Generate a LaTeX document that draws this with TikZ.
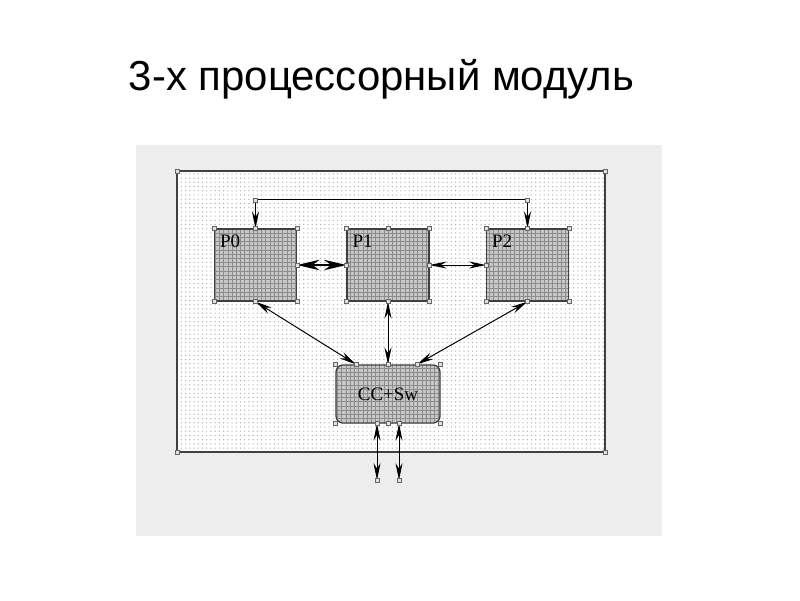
\documentclass[tikz,border=0pt]{standalone}
\usepackage{fontspec}
\setmainfont{Liberation Serif}
\newfontfamily\titlefont{Liberation Sans}
\usepackage{xcolor}
\usetikzlibrary{arrows.meta,patterns}

\tikzset{
  cpu/.style={draw=black!75,line width=0.9pt,preaction={fill=black!22},pattern=grid,pattern color=black!45,minimum width=2.05cm,minimum height=1.8cm,inner sep=0pt},
  tag/.style={anchor=north west,inner sep=0pt,font=\fontsize{13.5}{16}\selectfont},
  link/.style={line width=0.7pt,{Stealth[length=12pt,width=5pt]}-{Stealth[length=12pt,width=5pt]}},
  fatlink/.style={line width=1pt,{Stealth[length=16pt,width=7.5pt]}-{Stealth[length=16pt,width=7.5pt]}},
  grip/.style={draw=black!60,fill=black!12,line width=0.4pt}
}

\begin{document}
\begin{tikzpicture}[x=0.025cm,y=-0.025cm]
\useasboundingbox[fill=white](0,0)rectangle(800,600);
\node[font=\titlefont\fontsize{29.8}{35}\selectfont,anchor=base](title)at(381.5,90){3-х процессорный модуль};
\fill[black!7](136,145)rectangle(662,536);
\draw[draw=black!75,line width=1pt,preaction={fill=white},pattern=dots,pattern color=black!30](177,171)rectangle(605,452);

\node[cpu](p0)at(255.5,265){};
\node[cpu](p1)at(388,265){};
\node[cpu](p2)at(527.5,265){};
\node[cpu,rounded corners=5pt,minimum width=2.6cm,minimum height=1.45cm,font=\fontsize{13.5}{16}\selectfont](ccsw)at(388,394){CC+Sw};
\node[tag](p0lbl)at([shift={(6,6)}]p0.north west){P0};
\node[tag](p1lbl)at([shift={(6,6)}]p1.north west){P1};
\node[tag](p2lbl)at([shift={(6,6)}]p2.north west){P2};

\coordinate(in0)at([shift={(-32,0)}]ccsw.north);
\coordinate(in2)at([shift={(29,0)}]ccsw.north);
\coordinate(port1)at([shift={(-11,0)}]ccsw.south);
\coordinate(port2)at([shift={(11,0)}]ccsw.south);
\coordinate(out1)at(377,480);
\coordinate(out2)at(399,480);

\draw[link](p0.north)--++(0,-29)-|(p2.north);
\draw[fatlink](p0.east)--(p1.west);
\draw[link](p1.east)--(p2.west);
\draw[link](p0.south)--(in0);
\draw[link](p1.south)--(ccsw.north);
\draw[link](p2.south)--(in2);
\draw[link](port1)--(out1);
\draw[link](port2)--(out2);

% selection handles
\foreach \b in {p0,p1,p2,ccsw}
  \foreach \a in {north west,north east,south west,south east,north,south}
    \draw[grip]([shift={(-2,-2)}]\b.\a)rectangle++(4,4);
\foreach \p in {p0.east,p1.west,p1.east,p2.west,in0,in2,port1,port2,out1,out2}
  \draw[grip]([shift={(-2,-2)}]\p)rectangle++(4,4);
\foreach \p in {{177,171},{605,171},{177,452},{605,452},{255.5,200},{527.5,200}}
  \draw[grip]([shift={(-2,-2)}]\p)rectangle++(4,4);
\end{tikzpicture}
\end{document}
